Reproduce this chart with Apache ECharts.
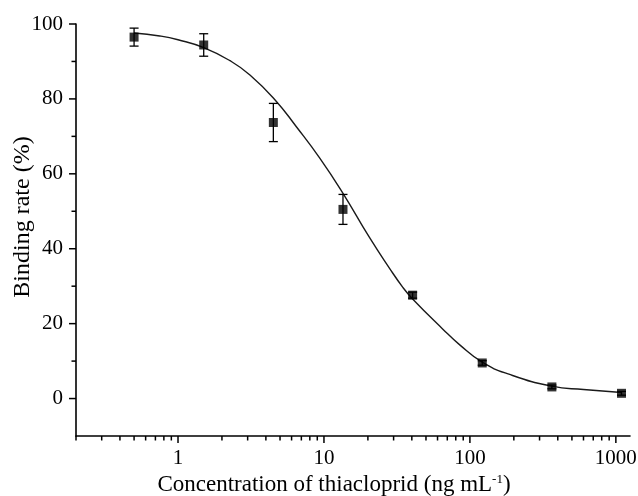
<!DOCTYPE html>
<html>
<head>
<meta charset="utf-8">
<script src="https://cdn.jsdelivr.net/npm/echarts@6/dist/echarts.min.js"></script>
<style>html,body{margin:0;padding:0;background:#fff}#c{width:638px;height:496px}</style>
</head>
<body>
<div id="c"></div>
<script>
// Measured points (concentration, mean binding rate, error)
var concentrations = [0.5, 1.5, 4.5, 13.5, 40.5, 121.5, 364.5, 1093.5];
var bindingRates = [96.5, 94.4, 73.7, 50.5, 27.6, 9.5, 3.1, 1.4];
var errors = [2.4, 3.0, 5.1, 4.0, 0.8, 0.6, 0.5, 0.5];
// Fitted curve
var curveX = [0.5, 0.75, 1, 1.5, 2.27, 3.11, 4.61, 6.49, 9.36, 13.5, 20.5, 28, 34.7, 40.5, 65, 84.8, 121.5, 185, 364.5, 600, 1093.5];
var curveY = [97.6, 96.8, 95.8, 93.7, 90.2, 86.4, 79.8, 72.5, 64.2, 54.8, 43.0, 34.9, 29.7, 26.6, 18.6, 14.4, 9.7, 6.5, 3.3, 2.4, 1.6];
// Axis ticks
var xMajorTicks = [1, 10, 100, 1000];
var xMinorTicks = [0.2, 0.3, 0.4, 0.5, 0.6, 0.7, 0.8, 0.9, 2, 3, 4, 5, 6, 7, 8, 9, 20, 30, 40, 50, 60, 70, 80, 90, 200, 300, 400, 500, 600, 700, 800, 900];
var yMajorTicks = [0, 20, 40, 60, 80, 100];
var yMinorTicks = [10, 30, 50, 70, 90];

var X_MIN = 0.2, X_MAX = 1250, Y_MIN = -10, Y_MAX = 100;
var FONT = 'Liberation Serif';

var chart = echarts.init(document.getElementById('c'), null, {renderer: 'canvas'});

function xTick(len) {
  return function (params, api) {
    var p = api.coord([api.value(0), Y_MIN]);
    return {type: 'line', shape: {x1: p[0], y1: p[1], x2: p[0], y2: p[1] + len}, style: {stroke: '#000', lineWidth: 1.5}};
  };
}
function yTick(len) {
  return function (params, api) {
    var p = api.coord([X_MIN, api.value(1)]);
    return {type: 'line', shape: {x1: p[0] - len, y1: p[1], x2: p[0], y2: p[1]}, style: {stroke: '#000', lineWidth: 1.5}};
  };
}

var curveData = curveX.map(function (x, i) { return [x, curveY[i]]; });
var pointData = concentrations.map(function (x, i) { return [x, bindingRates[i]]; });
var errData = concentrations.map(function (x, i) { return [x, bindingRates[i] - errors[i], bindingRates[i] + errors[i]]; });

chart.setOption({
  animation: false,
  backgroundColor: '#fff',
  grid: {left: 76, right: 8, top: 24, bottom: 60, containLabel: false, outerBoundsMode: 'none'},
  xAxis: {
    type: 'log', logBase: 10, min: X_MIN, max: X_MAX,
    axisLine: {show: true, onZero: false, lineStyle: {color: '#000', width: 1.6}},
    axisTick: {show: false},
    splitLine: {show: false},
    axisLabel: {
      margin: 12, color: '#000', fontFamily: FONT, fontSize: 21,
      showMinLabel: true, showMaxLabel: true,
      formatter: function (v) {
        var l = Math.log10(v);
        if (Math.abs(l - Math.round(l)) < 1e-6 && xMajorTicks.indexOf(Math.round(v)) >= 0) return String(Math.round(v));
        return '';
      }
    },
    name: 'Concentration of thiacloprid (ng mL{sup|-1})',
    nameLocation: 'middle', nameGap: 37, nameMoveOverlap: false,
    nameTextStyle: {color: '#000', fontFamily: FONT, fontSize: 23, padding: [0, 38, 0, 0],
      rich: {sup: {fontSize: 13, fontFamily: FONT, color: '#000', verticalAlign: 'top', padding: [0, 0, 8, 0]}}}
  },
  yAxis: {
    type: 'value', min: Y_MIN, max: Y_MAX, interval: 10,
    axisLine: {show: true, onZero: false, lineStyle: {color: '#000', width: 1.6}},
    axisTick: {show: false},
    splitLine: {show: false},
    axisLabel: {
      margin: 13, color: '#000', fontFamily: FONT, fontSize: 21,
      formatter: function (v) { return yMajorTicks.indexOf(v) >= 0 ? String(v) : ''; }
    },
    name: 'Binding rate (%)',
    nameLocation: 'middle', nameGap: 41, nameMoveOverlap: false,
    nameTextStyle: {color: '#000', fontFamily: FONT, fontSize: 24, padding: [0, 0, 0, 26]}
  },
  series: [
    {type: 'custom', coordinateSystem: 'cartesian2d', silent: true, clip: false, renderItem: xTick(7),
     data: xMajorTicks.map(function (v) { return [v, Y_MIN]; }), z: 5},
    {type: 'custom', coordinateSystem: 'cartesian2d', silent: true, clip: false, renderItem: xTick(4.5),
     data: xMinorTicks.map(function (v) { return [v, Y_MIN]; }), z: 5},
    {type: 'custom', coordinateSystem: 'cartesian2d', silent: true, clip: false, renderItem: yTick(7),
     data: yMajorTicks.map(function (v) { return [X_MIN, v]; }), z: 5},
    {type: 'custom', coordinateSystem: 'cartesian2d', silent: true, clip: false, renderItem: yTick(4.5),
     data: yMinorTicks.map(function (v) { return [X_MIN, v]; }), z: 5},
    {type: 'line', data: curveData, smooth: 0.5, showSymbol: false, symbol: 'none',
     lineStyle: {color: '#1a1a1a', width: 1.4}, z: 3},
    {type: 'custom', coordinateSystem: 'cartesian2d', silent: true, z: 4,
     encode: {x: 0, y: [1, 2]},
     data: errData,
     renderItem: function (params, api) {
       var lo = api.coord([api.value(0), api.value(1)]);
       var hi = api.coord([api.value(0), api.value(2)]);
       var hw = 4.5;
       var st = {stroke: '#000', lineWidth: 1.3};
       return {type: 'group', children: [
         {type: 'line', shape: {x1: lo[0], y1: lo[1], x2: hi[0], y2: hi[1]}, style: st},
         {type: 'line', shape: {x1: lo[0] - hw, y1: lo[1], x2: lo[0] + hw, y2: lo[1]}, style: st},
         {type: 'line', shape: {x1: hi[0] - hw, y1: hi[1], x2: hi[0] + hw, y2: hi[1]}, style: st}
       ]};
     }},
    {type: 'scatter', data: pointData, symbol: 'rect', symbolSize: 9,
     itemStyle: {color: '#000'}, z: 6}
  ]
});
</script>
</body>
</html>
